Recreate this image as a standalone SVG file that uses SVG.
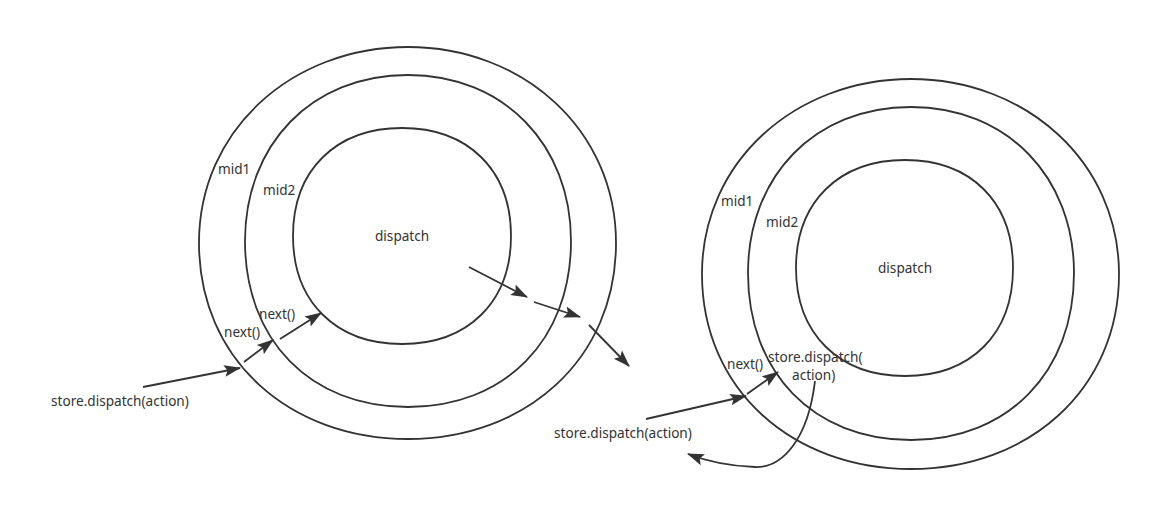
<svg xmlns="http://www.w3.org/2000/svg" width="1151" height="514" viewBox="0 0 1151 514">
<defs>
<style>
.ring{fill:none;stroke:#333;stroke-width:1.8}
.ln{fill:none;stroke:#333;stroke-width:1.8;marker-end:url(#ah)}
text{font-family:"Noto Sans","Liberation Sans",sans-serif;font-size:13.6px;fill:#333}
</style>
<marker id="ah" markerUnits="userSpaceOnUse" markerWidth="18" markerHeight="14" refX="15" refY="5.5" orient="auto" viewBox="0 0 17 11">
<path d="M0,0 L16,5.5 L0,11 L3,5.5 Z" fill="#333"/>
</marker>
</defs>
<rect width="1151" height="514" fill="#fff"/>
<g id="left-mid1">
<path class="ring" d="M408,47 C523,47 616,130 616,243 C616,360 525,439 408,439 C290,439 199,360 199,243 C199,130 292,47 408,47 Z"/>
<text x="218" y="174">mid1</text>
</g>
<g id="left-mid2">
<path class="ring" d="M408,75 C504,75 571,145 571,241 C571,340 505,407 408,407 C310,407 245,340 245,241 C245,145 311,75 408,75 Z"/>
<text x="263" y="195">mid2</text>
</g>
<g id="left-dispatch">
<path class="ring" d="M402,128 C468,128 511,170 511,236 C511,302 468,344 402,344 C336,344 293,302 293,236 C293,170 336,128 402,128 Z"/>
<text x="375" y="241">dispatch</text>
</g>
<g id="left-labels">
<text x="224" y="337">next()</text>
<text x="259" y="319">next()</text>
<text x="51" y="406">store.dispatch(action)</text>
</g>
<g id="right-mid1">
<path class="ring" d="M911,79 C1026,79 1119,162 1119,274 C1119,390 1028,469 911,469 C793,469 702,390 702,274 C702,162 795,79 911,79 Z"/>
<text x="721" y="206">mid1</text>
</g>
<g id="right-mid2">
<path class="ring" d="M911,107 C1007,107 1074,177 1074,273 C1074,372 1008,440 911,440 C813,440 748,372 748,273 C748,177 814,107 911,107 Z"/>
<text x="766" y="227">mid2</text>
</g>
<g id="right-dispatch">
<path class="ring" d="M905,160 C971,160 1013,202 1013,268 C1013,334 971,376 905,376 C839,376 796,334 796,268 C796,202 839,160 905,160 Z"/>
<text x="878" y="273">dispatch</text>
</g>
<g id="right-labels">
<text x="727" y="369">next()</text>
<text x="768" y="362">store.dispatch(</text>
<text x="792" y="380">action)</text>
<text x="554" y="438">store.dispatch(action)</text>
</g>
<g id="connectors">
<line class="ln" x1="143" y1="387" x2="240" y2="368"/>
<line class="ln" x1="244" y1="362" x2="273" y2="340"/>
<line class="ln" x1="280" y1="339" x2="321" y2="313"/>
<line class="ln" x1="469" y1="267" x2="527" y2="297"/>
<line class="ln" x1="534" y1="302" x2="580" y2="317"/>
<line class="ln" x1="589" y1="325" x2="629" y2="366"/>
<line class="ln" x1="646" y1="419" x2="746" y2="396"/>
<line class="ln" x1="747" y1="394" x2="778" y2="372"/>
<path class="ln" d="M815,381 C808,440 782,468 755,467 C728,466 706,461 688,454"/>
</g>
</svg>
